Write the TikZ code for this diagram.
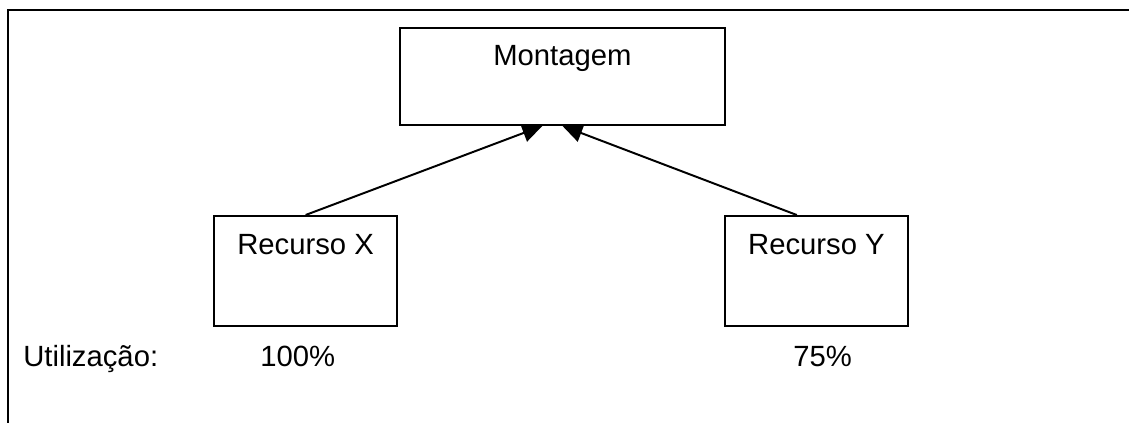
\documentclass[tikz,border=0pt]{standalone}
\usepackage{fontspec}
\setmainfont{Liberation Sans}
\usetikzlibrary{arrows.meta}

\begin{document}
\begin{tikzpicture}[
  font=\fontsize{20.8}{24}\selectfont,
  box/.style={draw, rectangle, line width=1.4pt, inner sep=0pt},
  topbox/.style={box, minimum width=8.125cm, text height=0.95cm, text depth=1.475cm},
  resbox/.style={box, minimum width=4.575cm, text height=0.975cm, text depth=1.775cm},
  arrow/.style={-{Triangle[length=0.5cm, width=0.46cm]}, line width=1.4pt},
  frame/.style={line width=2pt},
  util/.style={anchor=base west, inner sep=0pt},
]
\useasboundingbox (0,0) rectangle (28.225,-10.575);

% open frame: top and left edges only
\draw[frame] (28.225,-0.25) -- (0.2,-0.25) -- (0.2,-10.575);

\node[topbox] (mont) at (14.06,-1.91) {Montagem};
\node[resbox] (rx) at (7.64,-6.775) {Recurso X};
\node[resbox] (ry) at (20.41,-6.775) {Recurso Y};

\draw[arrow] (rx.north) -- ([xshift=-0.5cm]mont.south);
\draw[arrow] ([xshift=-0.49cm]ry.north) -- (mont.south);

\node[util] (ulabel) at (0.575,-9.175) {Utilização:};
\node[util] (ux) at (6.5,-9.175) {100\%};
\node[util] (uy) at (19.825,-9.175) {75\%};
\end{tikzpicture}
\end{document}
